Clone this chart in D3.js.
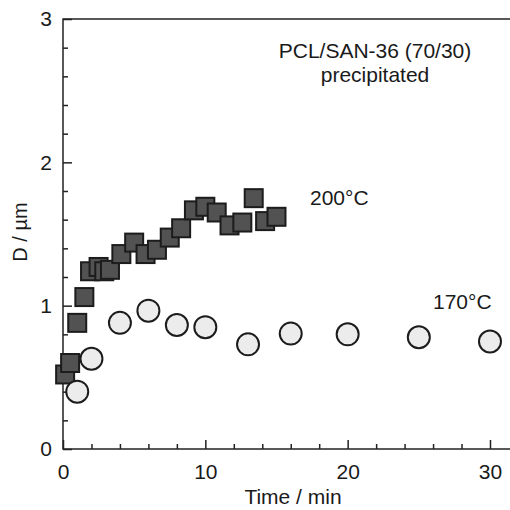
<!DOCTYPE html>
<html>
<head>
<meta charset="utf-8">
<script src="https://cdn.jsdelivr.net/npm/d3@7"></script>
<style>
body{margin:0;background:#fff}
svg{display:block}
text{font-family:"Liberation Sans",Arial,sans-serif;fill:#1a1a1a}
</style>
</head>
<body>
<div id="chart"></div>
<script>
// 200°C series (squares)
var time200 = [0.15, 0.5, 1.0, 1.5, 1.9, 2.5, 2.9, 3.3, 4.1, 5.0, 5.8, 6.6, 7.5, 8.3, 9.2, 10.0, 10.8, 11.7, 12.6, 13.4, 14.2, 15.0];
var d200    = [0.52, 0.60, 0.88, 1.06, 1.24, 1.27, 1.24, 1.25, 1.36, 1.44, 1.36, 1.39, 1.475, 1.54, 1.665, 1.69, 1.65, 1.56, 1.58, 1.75, 1.59, 1.62];
// 170°C series (circles)
var time170 = [1, 2, 4, 6, 8, 10, 13, 16, 20, 25, 30];
var d170    = [0.40, 0.63, 0.88, 0.965, 0.865, 0.85, 0.73, 0.805, 0.80, 0.78, 0.75];

var xMajor = [0, 10, 20, 30];
var yMajor = [0, 1, 2, 3];

var W = 510, H = 510;
var plotLeft = 63, plotTop = 19, plotBottom = 449;

var x = d3.scaleLinear().domain([0, 32.4]).range([plotLeft, plotLeft + 32.4 * 14.233]);
var y = d3.scaleLinear().domain([0, 3]).range([plotBottom, plotTop]);

var svg = d3.select('#chart').append('svg').attr('width', W).attr('height', H);

// frame
svg.append('rect')
	.attr('x', x(0)).attr('y', y(3))
	.attr('width', x(32.4) - x(0)).attr('height', y(0) - y(3))
	.attr('fill', 'none').attr('stroke', '#222').attr('stroke-width', 1.5);

function styleAxis(g){
	g.select('.domain').remove();
	g.selectAll('line').attr('stroke', '#222').attr('stroke-width', 1.5);
	g.selectAll('text').attr('font-size', 21).attr('fill', '#1a1a1a')
		.attr('font-family', '"Liberation Sans",Arial,sans-serif');
}

// x minor + major
svg.append('g').attr('transform', 'translate(0,' + plotBottom + ')')
	.call(d3.axisBottom(x).tickValues(d3.range(2, 31, 2).filter(function(v){return v % 10 != 0}))
		.tickSizeInner(-5).tickSizeOuter(0).tickFormat(''))
	.call(styleAxis);
svg.append('g').attr('transform', 'translate(0,' + plotBottom + ')')
	.call(d3.axisBottom(x).tickValues(xMajor).tickSizeInner(-9).tickSizeOuter(0).tickPadding(15))
	.call(styleAxis);

// y minor + major
svg.append('g').attr('transform', 'translate(' + plotLeft + ',0)')
	.call(d3.axisLeft(y).tickValues(d3.range(0.2, 3, 0.2).filter(function(v){return Math.abs(v - Math.round(v)) > 0.01}))
		.tickSizeInner(-5).tickSizeOuter(0).tickFormat(''))
	.call(styleAxis);
svg.append('g').attr('transform', 'translate(' + plotLeft + ',0)')
	.call(d3.axisLeft(y).tickValues(yMajor).tickSizeInner(-9).tickSizeOuter(0).tickPadding(11).tickFormat(d3.format('d')))
	.call(styleAxis);

// squares
var side = 18;
svg.append('g').selectAll('rect')
	.data(time200.map(function(t, i){return [t, d200[i]]}))
	.enter().append('rect')
	.attr('x', function(d){return x(d[0]) - side / 2})
	.attr('y', function(d){return y(d[1]) - side / 2})
	.attr('width', side).attr('height', side)
	.attr('fill', '#525252').attr('stroke', '#1c1c1c').attr('stroke-width', 2);

// circles
svg.append('g').selectAll('circle')
	.data(time170.map(function(t, i){return [t, d170[i]]}))
	.enter().append('circle')
	.attr('cx', function(d){return x(d[0])})
	.attr('cy', function(d){return y(d[1])})
	.attr('r', 11)
	.attr('fill', '#ececec').attr('stroke', '#1c1c1c').attr('stroke-width', 2);

// annotations
svg.append('text').attr('x', 375).attr('y', 58).attr('text-anchor', 'middle').attr('font-size', 21).text('PCL/SAN-36 (70/30)');
svg.append('text').attr('x', 375).attr('y', 82).attr('text-anchor', 'middle').attr('font-size', 21).text('precipitated');
svg.append('text').attr('x', 310).attr('y', 205).attr('font-size', 21).text('200°C');
svg.append('text').attr('x', 433).attr('y', 309).attr('font-size', 21).text('170°C');

// axis titles
svg.append('text').attr('x', 293).attr('y', 504).attr('text-anchor', 'middle').attr('font-size', 21).text('Time / min');
svg.append('text').attr('transform', 'translate(27,232) rotate(-90)')
	.attr('text-anchor', 'middle').attr('font-size', 20).text('D / µm');
</script>
</body>
</html>
